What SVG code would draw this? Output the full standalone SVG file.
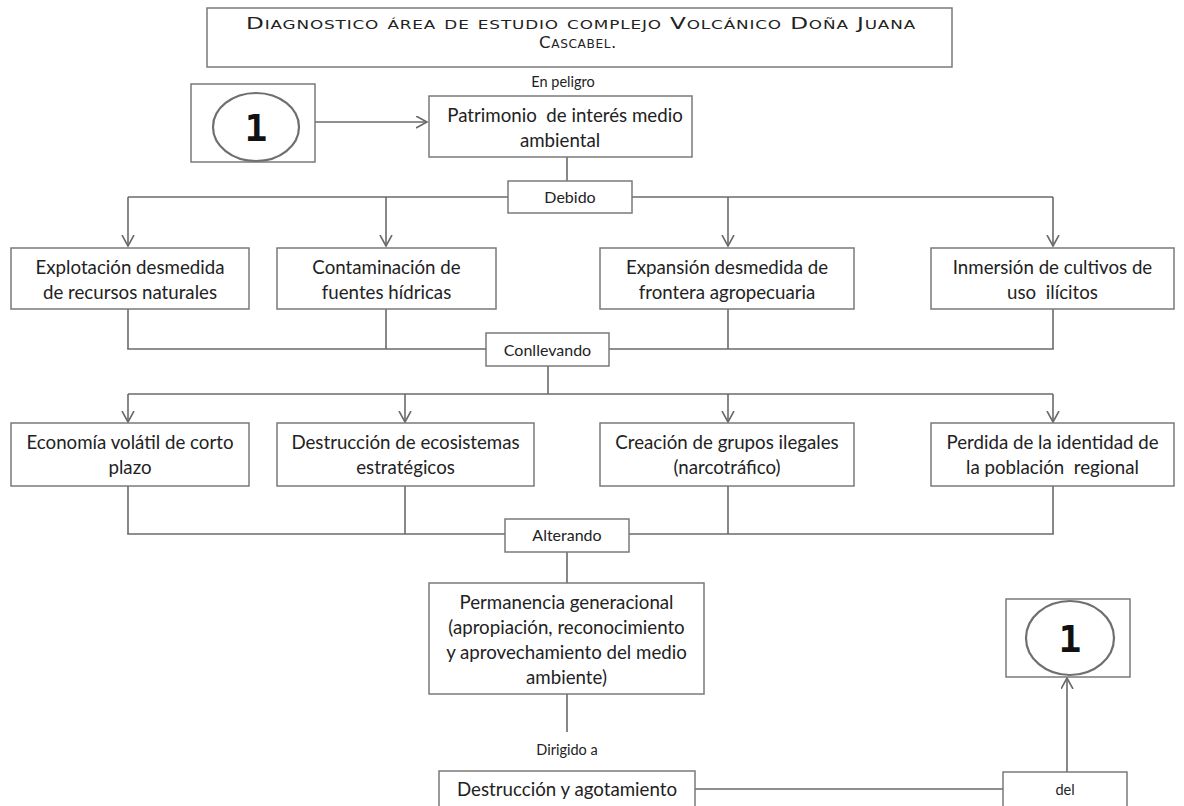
<svg xmlns="http://www.w3.org/2000/svg" width="1184" height="806" viewBox="0 0 1184 806">
<defs>
<style>
.box{fill:#fff;stroke:#7a7a7a;stroke-width:1.5}
.ln{fill:none;stroke:#6a6a6a;stroke-width:1.6}
.t{font-family:Lato,"Open Sans","Liberation Sans",sans-serif;font-size:18.7px;fill:#222;text-anchor:middle}
.s{font-family:Lato,"Open Sans","Liberation Sans",sans-serif;font-size:14.5px;fill:#222;text-anchor:middle}
.b{font-family:Lato,"Open Sans","Liberation Sans",sans-serif;font-size:16px;fill:#222;text-anchor:middle}
.ttl{font-family:"DejaVu Sans","Liberation Sans",sans-serif;font-size:16.5px;font-variant:small-caps;letter-spacing:0.6px;fill:#222;text-anchor:middle}
.num{font-family:"DejaVu Sans Mono","Liberation Mono",monospace;font-size:38px;font-weight:bold;fill:#111;text-anchor:middle}
.el{fill:#fff;stroke:#6f6f6f;stroke-width:2.2}
</style>
<marker id="arr" markerUnits="userSpaceOnUse" markerWidth="14" markerHeight="14" refX="11" refY="6.5" orient="auto" viewBox="0 0 14 14">
<path d="M0,0.5 L11,6.5 L0,12.5" fill="none" stroke="#6a6a6a" stroke-width="1.6"/>
</marker>
</defs>
<rect width="1184" height="806" fill="#fff"/>

<g id="connectors">
<line class="ln" x1="315" y1="122" x2="427" y2="122" marker-end="url(#arr)"/>
<line class="ln" x1="567" y1="157" x2="567" y2="181"/>
<line class="ln" x1="128" y1="197" x2="508" y2="197"/>
<line class="ln" x1="632" y1="197" x2="1053" y2="197"/>
<line class="ln" x1="128" y1="197" x2="128" y2="246" marker-end="url(#arr)"/>
<line class="ln" x1="386" y1="197" x2="386" y2="246" marker-end="url(#arr)"/>
<line class="ln" x1="728" y1="197" x2="728" y2="246" marker-end="url(#arr)"/>
<line class="ln" x1="1053" y1="197" x2="1053" y2="246" marker-end="url(#arr)"/>
<line class="ln" x1="128" y1="309" x2="128" y2="349"/>
<line class="ln" x1="386" y1="309" x2="386" y2="349"/>
<line class="ln" x1="728" y1="309" x2="728" y2="349"/>
<line class="ln" x1="1053" y1="309" x2="1053" y2="349"/>
<line class="ln" x1="127.2" y1="349" x2="486" y2="349"/>
<line class="ln" x1="609" y1="349" x2="1053.8" y2="349"/>
<line class="ln" x1="548" y1="366" x2="548" y2="394"/>
<line class="ln" x1="128" y1="394" x2="1053" y2="394"/>
<line class="ln" x1="128" y1="394" x2="128" y2="422" marker-end="url(#arr)"/>
<line class="ln" x1="405" y1="394" x2="405" y2="422" marker-end="url(#arr)"/>
<line class="ln" x1="728" y1="394" x2="728" y2="422" marker-end="url(#arr)"/>
<line class="ln" x1="1053" y1="394" x2="1053" y2="422" marker-end="url(#arr)"/>
<line class="ln" x1="128" y1="486" x2="128" y2="534"/>
<line class="ln" x1="405" y1="486" x2="405" y2="534"/>
<line class="ln" x1="728" y1="486" x2="728" y2="534"/>
<line class="ln" x1="1053" y1="486" x2="1053" y2="534"/>
<line class="ln" x1="127.2" y1="534" x2="505" y2="534"/>
<line class="ln" x1="629" y1="534" x2="1053.8" y2="534"/>
<line class="ln" x1="567" y1="552" x2="567" y2="583"/>
<line class="ln" x1="567" y1="694" x2="567" y2="732"/>
<line class="ln" x1="695" y1="789" x2="1003" y2="789"/>
<line class="ln" x1="1067" y1="772" x2="1067" y2="678" marker-end="url(#arr)"/>
</g>

<g id="title">
<rect class="box" x="207" y="8" width="745" height="59"/>
<text class="ttl" x="581" y="29" textLength="670" lengthAdjust="spacingAndGlyphs">Diagnostico área de estudio complejo Volcánico Doña Juana</text>
<text class="ttl" x="578" y="48" textLength="78" lengthAdjust="spacingAndGlyphs">Cascabel.</text>
</g>

<g id="label-en-peligro"><text class="s" x="563" y="87">En peligro</text></g>

<g id="ref-1-top">
<rect class="box" x="191" y="84" width="124" height="78"/>
<ellipse class="el" cx="256" cy="127" rx="43" ry="34"/>
<text class="num" x="256" y="141">1</text>
</g>

<g id="patrimonio">
<rect class="box" x="429" y="96" width="263" height="61"/>
<text class="t" x="565" y="122" xml:space="preserve">Patrimonio  de interés medio</text>
<text class="t" x="560" y="147">ambiental</text>
</g>

<g id="debido">
<rect class="box" x="508" y="181" width="124" height="32"/>
<text class="b" x="570" y="203">Debido</text>
</g>

<g id="explotacion">
<rect class="box" x="11" y="248" width="238" height="61"/>
<text class="t" x="130" y="274">Explotación desmedida</text>
<text class="t" x="130" y="299">de recursos naturales</text>
</g>
<g id="contaminacion">
<rect class="box" x="277" y="248" width="219" height="61"/>
<text class="t" x="386.5" y="274">Contaminación de</text>
<text class="t" x="386.5" y="299">fuentes hídricas</text>
</g>
<g id="expansion">
<rect class="box" x="600" y="248" width="254" height="61"/>
<text class="t" x="727" y="274">Expansión desmedida de</text>
<text class="t" x="727" y="299">frontera agropecuaria</text>
</g>
<g id="inmersion">
<rect class="box" x="931" y="248" width="243" height="61"/>
<text class="t" x="1052.5" y="274">Inmersión de cultivos de</text>
<text class="t" x="1052.5" y="299" xml:space="preserve">uso  ilícitos</text>
</g>

<g id="conllevando">
<rect class="box" x="486" y="333" width="123" height="33"/>
<text class="b" x="547.5" y="356">Conllevando</text>
</g>

<g id="economia">
<rect class="box" x="11" y="423" width="238" height="63"/>
<text class="t" x="130" y="449">Economía volátil de corto</text>
<text class="t" x="130" y="474">plazo</text>
</g>
<g id="destruccion-eco">
<rect class="box" x="277" y="423" width="257" height="63"/>
<text class="t" x="405.5" y="449">Destrucción de ecosistemas</text>
<text class="t" x="405.5" y="474">estratégicos</text>
</g>
<g id="creacion">
<rect class="box" x="600" y="423" width="254" height="63"/>
<text class="t" x="727" y="449">Creación de grupos ilegales</text>
<text class="t" x="727" y="474">(narcotráfico)</text>
</g>
<g id="perdida">
<rect class="box" x="931" y="423" width="243" height="63"/>
<text class="t" x="1052.5" y="449">Perdida de la identidad de</text>
<text class="t" x="1052.5" y="474" xml:space="preserve">la población  regional</text>
</g>

<g id="alterando">
<rect class="box" x="505" y="519" width="124" height="33"/>
<text class="b" x="567" y="541">Alterando</text>
</g>

<g id="permanencia">
<rect class="box" x="429" y="583" width="275" height="111"/>
<text class="t" x="566.5" y="609">Permanencia generacional</text>
<text class="t" x="566.5" y="634">(apropiación, reconocimiento</text>
<text class="t" x="566.5" y="659">y aprovechamiento del medio</text>
<text class="t" x="566.5" y="684">ambiente)</text>
</g>

<g id="label-dirigido"><text class="s" x="567" y="755">Dirigido a</text></g>

<g id="destruccion-agot">
<rect class="box" x="439" y="771" width="256" height="45"/>
<text class="t" x="567" y="796">Destrucción y agotamiento</text>
</g>

<g id="del">
<rect class="box" x="1003" y="772" width="124" height="44"/>
<text class="s" x="1065" y="795">del</text>
</g>

<g id="ref-1-bottom">
<rect class="box" x="1006" y="599" width="124" height="78"/>
<ellipse class="el" cx="1070" cy="638" rx="44" ry="37"/>
<text class="num" x="1070" y="652">1</text>
</g>
</svg>
